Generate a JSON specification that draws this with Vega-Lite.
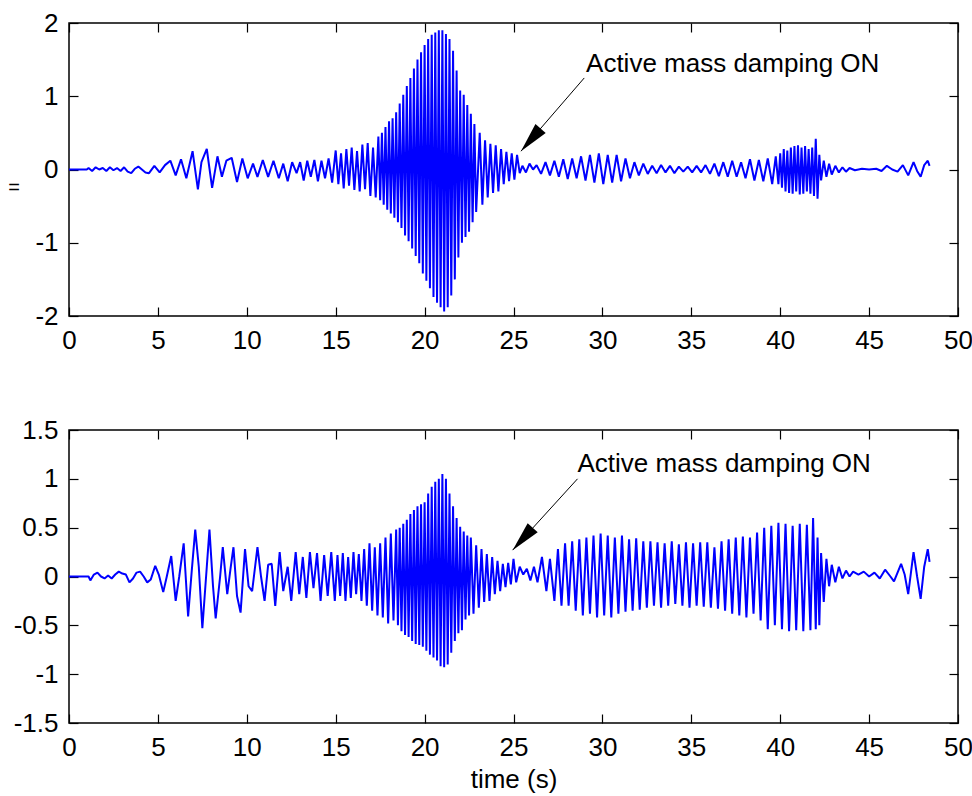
{
  "$schema": "https://vega.github.io/schema/vega-lite/v6.json",
  "background": "white",
  "padding": {"left": 6, "top": 9, "right": 0, "bottom": 0},
  "spacing": 62,
  "config": {
    "view": {"stroke": "black", "strokeWidth": 1.5},
    "font": "Liberation Sans",
    "axis": {
      "domain": false, "grid": false, "labelFlush": false,
      "tickColor": "black", "tickSize": -9, "tickWidth": 1.2,
      "labelFont": "Liberation Sans", "labelFontSize": 26, "labelColor": "black", "labelPadding": 20,
      "titleFont": "Liberation Sans", "titleFontSize": 26, "titleColor": "black", "titleFontWeight": "normal"
    }
  },
  "datasets": {
    "top": [
      {"t":0,"v":0},{"t":1.0,"v":0},{"t":1.1,"v":0.02},{"t":1.3,"v":-0.02},{"t":1.5,"v":0.03},{"t":1.7,"v":0.0},{"t":1.9,"v":0.02},{"t":2.1,"v":-0.02},{"t":2.3,"v":0.03},{"t":2.5,"v":-0.01},{"t":2.7,"v":0.02},{"t":2.9,"v":-0.02},{"t":3.1,"v":0.03},{"t":3.3,"v":-0.03},{"t":3.5,"v":-0.05},{"t":3.7,"v":0.01},{"t":3.9,"v":0.04},{"t":4.1,"v":0.0},{"t":4.3,"v":-0.04},{"t":4.5,"v":-0.05},{"t":4.8,"v":0.05},{"t":5.1,"v":-0.04},{"t":5.4,"v":0.06},{"t":5.7,"v":0.12},{"t":6.0,"v":-0.08},{"t":6.3,"v":0.14},{"t":6.6,"v":-0.12},{"t":6.95,"v":0.25},{"t":7.25,"v":-0.27},{"t":7.45,"v":0.1},{"t":7.75,"v":0.28},{"t":8.05,"v":-0.25},{"t":8.35,"v":0.18},{"t":8.6,"v":-0.1},{"t":8.85,"v":0.12},{"t":9.15,"v":0.16},{"t":9.45,"v":-0.17},{"t":9.75,"v":0.15},{"t":10.05,"v":-0.12},{"t":10.35,"v":0.08},{"t":10.6,"v":-0.1},{"t":10.9,"v":0.13},{"t":11.2,"v":-0.1},{"t":11.5,"v":0.12},{"t":11.8,"v":-0.12},{"t":12.05,"v":0.08},{"t":12.3,"v":-0.16},{"t":12.55,"v":0.1},{"t":12.8,"v":-0.05},{"t":13.0,"v":0.1},{"t":13.2,"v":-0.15},{"t":13.4,"v":0.12},{"t":13.6,"v":-0.1},{"t":13.8,"v":0.13},{"t":14.0,"v":-0.16},{"t":14.2,"v":0.12},{"t":14.4,"v":-0.12},{"t":14.6,"v":0.15},{"t":14.8,"v":-0.18},
      {"t":15.0,"v":0.26},{"t":15.15,"v":-0.2},{"t":15.3,"v":0.22},{"t":15.45,"v":-0.26},{"t":15.6,"v":0.28},{"t":15.75,"v":-0.22},{"t":15.9,"v":0.3},{"t":16.05,"v":-0.28},{"t":16.2,"v":0.25},{"t":16.35,"v":-0.3},{"t":16.5,"v":0.34},{"t":16.65,"v":-0.27},{"t":16.8,"v":0.36},{"t":16.95,"v":-0.36},{"t":17.1,"v":0.3},{"t":17.25,"v":-0.38},{"t":17.4,"v":0.45},
      {"t":17.5,"v":-0.42},{"t":17.6,"v":0.5},{"t":17.7,"v":-0.48},{"t":17.8,"v":0.58},{"t":17.9,"v":-0.55},{"t":18.0,"v":0.66},{"t":18.1,"v":-0.6},{"t":18.2,"v":0.7},{"t":18.3,"v":-0.66},{"t":18.4,"v":0.78},{"t":18.5,"v":-0.72},{"t":18.6,"v":0.9},{"t":18.7,"v":-0.8},{"t":18.8,"v":1.02},{"t":18.9,"v":-0.9},{"t":19.0,"v":1.14},{"t":19.1,"v":-0.98},{"t":19.2,"v":1.25},{"t":19.3,"v":-1.08},{"t":19.4,"v":1.38},{"t":19.5,"v":-1.18},{"t":19.6,"v":1.5},{"t":19.7,"v":-1.28},{"t":19.8,"v":1.6},{"t":19.9,"v":-1.42},{"t":20.0,"v":1.7},{"t":20.1,"v":-1.52},{"t":20.2,"v":1.78},{"t":20.3,"v":-1.62},{"t":20.4,"v":1.84},{"t":20.5,"v":-1.74},{"t":20.6,"v":1.87},{"t":20.7,"v":-1.82},{"t":20.8,"v":1.9},{"t":20.9,"v":-1.88},{"t":21.0,"v":1.9},{"t":21.1,"v":-1.94},{"t":21.2,"v":1.85},{"t":21.3,"v":-1.88},{"t":21.4,"v":1.78},{"t":21.5,"v":-1.72},{"t":21.6,"v":1.62},{"t":21.7,"v":-1.5},{"t":21.8,"v":1.35},{"t":21.9,"v":-1.2},{"t":22.0,"v":1.08},{"t":22.1,"v":-1.0},{"t":22.2,"v":1.02},{"t":22.3,"v":-0.92},{"t":22.4,"v":0.88},{"t":22.5,"v":-0.85},{"t":22.6,"v":0.76},{"t":22.7,"v":-0.72},{"t":22.8,"v":0.62},{"t":22.9,"v":-0.58},
      {"t":23.1,"v":0.5},{"t":23.25,"v":-0.48},{"t":23.4,"v":0.4},{"t":23.55,"v":-0.38},{"t":23.7,"v":0.35},{"t":23.85,"v":-0.32},{"t":24.0,"v":0.33},{"t":24.15,"v":-0.3},{"t":24.3,"v":0.28},{"t":24.45,"v":-0.2},{"t":24.6,"v":0.24},{"t":24.75,"v":-0.16},{"t":24.9,"v":0.22},{"t":25.05,"v":-0.14},{"t":25.2,"v":0.2},{"t":25.35,"v":-0.05},
      {"t":25.5,"v":0.05},{"t":25.7,"v":-0.04},{"t":25.9,"v":0.08},{"t":26.1,"v":0.0},{"t":26.3,"v":0.06},{"t":26.55,"v":-0.06},{"t":26.8,"v":0.1},{"t":27.05,"v":-0.08},{"t":27.3,"v":0.12},{"t":27.55,"v":-0.1},{"t":27.8,"v":0.14},{"t":28.05,"v":-0.13},{"t":28.3,"v":0.15},{"t":28.55,"v":-0.12},{"t":28.8,"v":0.18},{"t":29.05,"v":-0.15},{"t":29.3,"v":0.2},{"t":29.55,"v":-0.18},{"t":29.8,"v":0.22},{"t":30.05,"v":-0.2},{"t":30.3,"v":0.2},{"t":30.55,"v":-0.18},{"t":30.8,"v":0.2},{"t":31.05,"v":-0.16},{"t":31.3,"v":0.15},{"t":31.55,"v":-0.12},{"t":31.8,"v":0.1},{"t":32.05,"v":-0.08},{"t":32.3,"v":0.08},{"t":32.55,"v":-0.06},{"t":32.8,"v":0.05},{"t":33.05,"v":-0.05},{"t":33.3,"v":0.06},{"t":33.55,"v":-0.04},{"t":33.8,"v":0.05},{"t":34.05,"v":-0.05},{"t":34.3,"v":0.04},{"t":34.55,"v":-0.03},{"t":34.8,"v":0.04},{"t":35.05,"v":-0.04},{"t":35.3,"v":0.05},{"t":35.55,"v":-0.04},{"t":35.8,"v":0.06},{"t":36.05,"v":-0.06},{"t":36.3,"v":0.08},{"t":36.55,"v":-0.09},{"t":36.8,"v":0.1},{"t":37.05,"v":-0.1},{"t":37.3,"v":0.12},{"t":37.55,"v":-0.1},{"t":37.8,"v":0.1},{"t":38.05,"v":-0.12},{"t":38.3,"v":0.14},{"t":38.55,"v":-0.15},{"t":38.8,"v":0.13},{"t":39.05,"v":-0.16},{"t":39.3,"v":0.15},{"t":39.55,"v":-0.2},{"t":39.75,"v":0.18},{"t":39.9,"v":-0.2},{"t":40.0,"v":0.22},{"t":40.1,"v":-0.25},{"t":40.2,"v":0.28},{"t":40.3,"v":-0.3},{"t":40.4,"v":0.26},{"t":40.5,"v":-0.32},{"t":40.6,"v":0.3},{"t":40.7,"v":-0.33},{"t":40.8,"v":0.32},{"t":40.9,"v":-0.3},{"t":41.0,"v":0.33},{"t":41.1,"v":-0.34},{"t":41.2,"v":0.3},{"t":41.3,"v":-0.33},{"t":41.4,"v":0.32},{"t":41.5,"v":-0.3},{"t":41.6,"v":0.28},{"t":41.7,"v":-0.33},{"t":41.8,"v":0.3},{"t":41.9,"v":-0.36},{"t":42.0,"v":0.42},{"t":42.1,"v":-0.4},{"t":42.2,"v":0.2},{"t":42.3,"v":-0.15},{"t":42.45,"v":0.12},{"t":42.6,"v":-0.1},{"t":42.75,"v":0.08},{"t":42.9,"v":-0.07},{"t":43.1,"v":0.05},{"t":43.3,"v":-0.04},{"t":43.5,"v":0.03},{"t":43.7,"v":-0.03},{"t":43.9,"v":0.02},{"t":44.2,"v":-0.01},{"t":44.6,"v":0.01},{"t":45.0,"v":0.0},{"t":45.4,"v":0.01},{"t":45.7,"v":-0.02},{"t":46.0,"v":0.05},{"t":46.3,"v":0.0},{"t":46.6,"v":-0.03},{"t":46.9,"v":0.06},{"t":47.2,"v":-0.08},{"t":47.5,"v":0.1},{"t":47.7,"v":-0.02},{"t":47.9,"v":-0.1},{"t":48.1,"v":0.06},{"t":48.3,"v":0.12},{"t":48.4,"v":0.05}
    ],
    "bottom": [
      {"t":0,"v":0},{"t":1.1,"v":0},{"t":1.2,"v":-0.04},{"t":1.4,"v":0.02},{"t":1.6,"v":0.04},{"t":1.8,"v":0.0},{"t":2.0,"v":-0.02},{"t":2.2,"v":0.01},{"t":2.4,"v":-0.02},{"t":2.6,"v":0.02},{"t":2.8,"v":0.05},{"t":3.0,"v":0.03},{"t":3.2,"v":0.02},{"t":3.4,"v":-0.06},{"t":3.6,"v":-0.02},{"t":3.8,"v":0.04},{"t":4.0,"v":0.05},{"t":4.2,"v":0.0},{"t":4.4,"v":-0.06},{"t":4.6,"v":-0.03},{"t":4.85,"v":0.11},{"t":5.05,"v":0.02},{"t":5.3,"v":-0.16},{"t":5.5,"v":0.0},{"t":5.75,"v":0.21},{"t":6.0,"v":-0.25},{"t":6.2,"v":0.0},{"t":6.45,"v":0.34},{"t":6.7,"v":-0.41},{"t":6.9,"v":0.05},{"t":7.1,"v":0.48},{"t":7.3,"v":0.1},{"t":7.5,"v":-0.53},{"t":7.75,"v":0.1},{"t":7.9,"v":0.48},{"t":8.1,"v":-0.1},{"t":8.25,"v":-0.43},{"t":8.5,"v":0.0},{"t":8.65,"v":0.3},{"t":8.9,"v":-0.18},{"t":9.1,"v":0.1},{"t":9.25,"v":0.3},{"t":9.45,"v":-0.2},{"t":9.65,"v":-0.37},{"t":9.9,"v":0.28},{"t":10.1,"v":-0.1},{"t":10.3,"v":-0.15},{"t":10.6,"v":0.3},{"t":10.8,"v":0.0},{"t":11.0,"v":-0.25},{"t":11.2,"v":0.12},{"t":11.4,"v":0.13},{"t":11.6,"v":-0.3},{"t":11.85,"v":0.25},{"t":12.05,"v":-0.15},{"t":12.3,"v":0.1},{"t":12.5,"v":-0.25},{"t":12.75,"v":0.25},{"t":12.95,"v":-0.18},{"t":13.15,"v":0.2},{"t":13.35,"v":-0.22},{"t":13.55,"v":0.25},{"t":13.75,"v":-0.12},{"t":13.95,"v":0.24},{"t":14.15,"v":-0.25},{"t":14.35,"v":0.22},{"t":14.55,"v":-0.2},{"t":14.75,"v":0.25},{"t":14.95,"v":-0.25},
      {"t":15.1,"v":0.22},{"t":15.25,"v":-0.2},{"t":15.4,"v":0.24},{"t":15.55,"v":-0.25},{"t":15.7,"v":0.2},{"t":15.85,"v":-0.22},{"t":16.0,"v":0.25},{"t":16.15,"v":-0.18},{"t":16.3,"v":0.23},{"t":16.45,"v":-0.25},{"t":16.6,"v":0.28},{"t":16.75,"v":-0.3},{"t":16.9,"v":0.34},{"t":17.05,"v":-0.35},{"t":17.2,"v":0.3},{"t":17.35,"v":-0.4},{"t":17.5,"v":0.34},{"t":17.65,"v":-0.42},{"t":17.8,"v":0.4},{"t":17.95,"v":-0.48},{"t":18.1,"v":0.44},{"t":18.25,"v":-0.45},{"t":18.4,"v":0.48},
      {"t":18.5,"v":-0.5},{"t":18.6,"v":0.5},{"t":18.7,"v":-0.56},{"t":18.8,"v":0.54},{"t":18.9,"v":-0.6},{"t":19.0,"v":0.58},{"t":19.1,"v":-0.62},{"t":19.2,"v":0.64},{"t":19.3,"v":-0.66},{"t":19.4,"v":0.68},{"t":19.5,"v":-0.69},{"t":19.6,"v":0.72},{"t":19.7,"v":-0.7},{"t":19.8,"v":0.74},{"t":19.9,"v":-0.72},{"t":20.0,"v":0.76},{"t":20.1,"v":-0.76},{"t":20.2,"v":0.85},{"t":20.3,"v":-0.8},{"t":20.4,"v":0.92},{"t":20.5,"v":-0.83},{"t":20.6,"v":0.97},{"t":20.7,"v":-0.86},{"t":20.8,"v":1.0},{"t":20.9,"v":-0.92},{"t":21.0,"v":1.05},{"t":21.1,"v":-0.93},{"t":21.2,"v":1.0},{"t":21.3,"v":-0.9},{"t":21.4,"v":0.85},{"t":21.5,"v":-0.78},{"t":21.6,"v":0.72},{"t":21.7,"v":-0.66},{"t":21.8,"v":0.6},{"t":21.9,"v":-0.58},{"t":22.0,"v":0.51},{"t":22.1,"v":-0.55},{"t":22.2,"v":0.46},{"t":22.3,"v":-0.44},{"t":22.4,"v":0.42},{"t":22.5,"v":-0.4},
      {"t":22.6,"v":0.4},{"t":22.75,"v":-0.38},{"t":22.9,"v":0.32},{"t":23.05,"v":-0.32},{"t":23.2,"v":0.28},{"t":23.35,"v":-0.26},{"t":23.5,"v":0.23},{"t":23.65,"v":-0.25},{"t":23.8,"v":0.2},{"t":23.95,"v":-0.18},{"t":24.1,"v":0.16},{"t":24.25,"v":-0.15},{"t":24.4,"v":0.13},{"t":24.55,"v":-0.11},{"t":24.7,"v":0.14},{"t":24.85,"v":-0.08},{"t":25.0,"v":0.18},{"t":25.15,"v":-0.06},
      {"t":25.35,"v":0.1},{"t":25.55,"v":0.02},{"t":25.75,"v":0.08},{"t":25.95,"v":-0.04},{"t":26.15,"v":0.1},{"t":26.35,"v":-0.06},{"t":26.6,"v":0.2},{"t":26.85,"v":-0.15},{"t":27.05,"v":0.18},{"t":27.3,"v":-0.25},{"t":27.5,"v":0.28},{"t":27.7,"v":-0.3},{"t":27.9,"v":0.34},{"t":28.1,"v":-0.3},{"t":28.3,"v":0.36},{"t":28.5,"v":-0.35},{"t":28.7,"v":0.38},{"t":28.9,"v":-0.4},{"t":29.1,"v":0.4},{"t":29.3,"v":-0.38},{"t":29.5,"v":0.42},{"t":29.7,"v":-0.42},{"t":29.9,"v":0.44},{"t":30.1,"v":-0.4},{"t":30.3,"v":0.42},{"t":30.5,"v":-0.42},{"t":30.7,"v":0.4},{"t":30.9,"v":-0.38},{"t":31.1,"v":0.42},{"t":31.3,"v":-0.36},{"t":31.5,"v":0.38},{"t":31.7,"v":-0.35},{"t":31.9,"v":0.39},{"t":32.1,"v":-0.34},{"t":32.3,"v":0.36},{"t":32.5,"v":-0.32},{"t":32.7,"v":0.36},{"t":32.9,"v":-0.3},{"t":33.1,"v":0.35},{"t":33.3,"v":-0.32},{"t":33.5,"v":0.34},{"t":33.7,"v":-0.3},{"t":33.9,"v":0.36},{"t":34.1,"v":-0.28},{"t":34.3,"v":0.33},{"t":34.5,"v":-0.3},{"t":34.7,"v":0.35},{"t":34.9,"v":-0.32},{"t":35.1,"v":0.34},{"t":35.3,"v":-0.3},{"t":35.5,"v":0.35},{"t":35.7,"v":-0.31},{"t":35.9,"v":0.35},{"t":36.1,"v":-0.32},{"t":36.3,"v":0.3},{"t":36.5,"v":-0.33},{"t":36.7,"v":0.36},{"t":36.9,"v":-0.35},{"t":37.1,"v":0.38},{"t":37.3,"v":-0.38},{"t":37.5,"v":0.4},{"t":37.7,"v":-0.4},{"t":37.9,"v":0.41},{"t":38.1,"v":-0.42},{"t":38.3,"v":0.4},{"t":38.5,"v":-0.38},{"t":38.7,"v":0.45},{"t":38.9,"v":-0.45},{"t":39.1,"v":0.5},{"t":39.3,"v":-0.54},{"t":39.5,"v":0.52},{"t":39.7,"v":-0.5},{"t":39.9,"v":0.55},{"t":40.1,"v":-0.54},{"t":40.3,"v":0.54},{"t":40.5,"v":-0.56},{"t":40.7,"v":0.52},{"t":40.9,"v":-0.55},{"t":41.1,"v":0.54},{"t":41.3,"v":-0.56},{"t":41.5,"v":0.53},{"t":41.7,"v":-0.55},{"t":41.85,"v":0.6},{"t":42.0,"v":-0.54},{"t":42.1,"v":0.4},{"t":42.2,"v":-0.5},{"t":42.3,"v":0.24},{"t":42.45,"v":-0.26},{"t":42.6,"v":0.18},{"t":42.75,"v":-0.1},{"t":42.9,"v":0.12},{"t":43.1,"v":-0.06},{"t":43.3,"v":0.1},{"t":43.5,"v":-0.02},{"t":43.7,"v":0.06},{"t":43.9,"v":0.0},{"t":44.1,"v":0.05},{"t":44.4,"v":0.02},{"t":44.7,"v":0.05},{"t":45.0,"v":0.0},{"t":45.3,"v":0.04},{"t":45.6,"v":-0.02},{"t":45.9,"v":0.07},{"t":46.2,"v":0.0},{"t":46.4,"v":-0.05},{"t":46.8,"v":0.13},{"t":47.0,"v":0.02},{"t":47.2,"v":-0.18},{"t":47.5,"v":0.25},{"t":47.7,"v":0.0},{"t":47.9,"v":-0.23},{"t":48.1,"v":0.1},{"t":48.3,"v":0.28},{"t":48.4,"v":0.15}
    ],
    "noteTop": [{"x1": 28.98, "y1": 1.25, "x2": 25.42, "y2": 0.25, "tx": 29.08, "ty": 1.33, "label": "Active mass damping ON"}],
    "noteBottom": [{"x1": 28.6, "y1": 1.0, "x2": 24.95, "y2": 0.27, "tx": 28.6, "ty": 1.07, "label": "Active mass damping ON"}]
  },
  "vconcat": [
    {
      "width": 889, "height": 293,
      "resolve": {"axis": {"x": "independent", "y": "independent"}},
      "layer": [
        {
          "data": {"name": "top"},
          "mark": {"type": "line", "color": "#0000ff", "strokeWidth": 2, "strokeJoin": "bevel", "clip": true},
          "encoding": {
            "x": {"field": "t", "type": "quantitative", "scale": {"domain": [0, 50], "nice": false},
                  "axis": {"orient": "bottom", "values": [0,5,10,15,20,25,30,35,40,45,50], "title": null, "labelExpr": "'' + datum.value"}},
            "y": {"field": "v", "type": "quantitative", "scale": {"domain": [-2, 2], "nice": false},
                  "axis": {"orient": "left", "values": [-2,-1,0,1,2], "labelExpr": "'' + datum.value",
                           "title": "=", "titleAngle": 0, "titleFontSize": 20, "titleX": -55.5, "titleY": 164, "titleAlign": "center", "titleBaseline": "middle"}}
          }
        },
        {
          "data": {"name": "noteTop"},
          "mark": {"type": "rule", "color": "black", "strokeWidth": 1},
          "encoding": {
            "x": {"field": "x1", "type": "quantitative", "scale": {"domain": [0, 50], "nice": false},
                  "axis": {"orient": "top", "values": [0,5,10,15,20,25,30,35,40,45,50], "labels": false, "title": null}},
            "y": {"field": "y1", "type": "quantitative", "scale": {"domain": [-2, 2], "nice": false},
                  "axis": {"orient": "right", "values": [-2,-1,0,1,2], "labels": false, "title": null}},
            "x2": {"field": "x2"},
            "y2": {"field": "y2"}
          }
        },
        {
          "data": {"name": "noteTop"},
          "mark": {"type": "point", "shape": "M0,0L-0.45,2L0.45,2Z", "filled": true, "color": "black", "opacity": 1, "size": 900, "angle": 220.8},
          "encoding": {
            "x": {"field": "x2", "type": "quantitative", "axis": null},
            "y": {"field": "y2", "type": "quantitative", "axis": null}
          }
        },
        {
          "data": {"name": "noteTop"},
          "mark": {"type": "text", "align": "left", "baseline": "alphabetic", "fontSize": 26, "font": "Liberation Sans", "color": "black"},
          "encoding": {
            "x": {"field": "tx", "type": "quantitative", "axis": null},
            "y": {"field": "ty", "type": "quantitative", "axis": null},
            "text": {"field": "label"}
          }
        }
      ]
    },
    {
      "width": 889, "height": 293,
      "resolve": {"axis": {"x": "independent", "y": "independent"}},
      "layer": [
        {
          "data": {"name": "bottom"},
          "mark": {"type": "line", "color": "#0000ff", "strokeWidth": 2, "strokeJoin": "bevel", "clip": true},
          "encoding": {
            "x": {"field": "t", "type": "quantitative", "scale": {"domain": [0, 50], "nice": false},
                  "axis": {"orient": "bottom", "values": [0,5,10,15,20,25,30,35,40,45,50], "title": "time (s)", "titlePadding": 6, "labelExpr": "'' + datum.value"}},
            "y": {"field": "v", "type": "quantitative", "scale": {"domain": [-1.5, 1.5], "nice": false},
                  "axis": {"orient": "left", "values": [-1.5,-1,-0.5,0,0.5,1,1.5], "labelExpr": "'' + datum.value", "title": null}}
          }
        },
        {
          "data": {"name": "noteBottom"},
          "mark": {"type": "rule", "color": "black", "strokeWidth": 1},
          "encoding": {
            "x": {"field": "x1", "type": "quantitative", "scale": {"domain": [0, 50], "nice": false},
                  "axis": {"orient": "top", "values": [0,5,10,15,20,25,30,35,40,45,50], "labels": false, "title": null}},
            "y": {"field": "y1", "type": "quantitative", "scale": {"domain": [-1.5, 1.5], "nice": false},
                  "axis": {"orient": "right", "values": [-1.5,-1,-0.5,0,0.5,1,1.5], "labels": false, "title": null}},
            "x2": {"field": "x2"},
            "y2": {"field": "y2"}
          }
        },
        {
          "data": {"name": "noteBottom"},
          "mark": {"type": "point", "shape": "M0,0L-0.45,2L0.45,2Z", "filled": true, "color": "black", "opacity": 1, "size": 900, "angle": 222},
          "encoding": {
            "x": {"field": "x2", "type": "quantitative", "axis": null},
            "y": {"field": "y2", "type": "quantitative", "axis": null}
          }
        },
        {
          "data": {"name": "noteBottom"},
          "mark": {"type": "text", "align": "left", "baseline": "alphabetic", "fontSize": 26, "font": "Liberation Sans", "color": "black"},
          "encoding": {
            "x": {"field": "tx", "type": "quantitative", "axis": null},
            "y": {"field": "ty", "type": "quantitative", "axis": null},
            "text": {"field": "label"}
          }
        }
      ]
    }
  ]
}
